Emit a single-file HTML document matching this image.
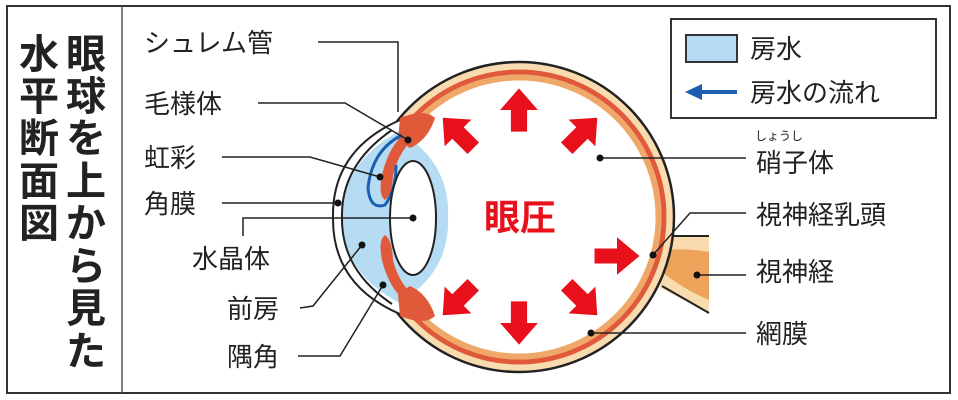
<!DOCTYPE html>
<html><head><meta charset="utf-8"><style>
body{margin:0;background:#fff;}
svg{display:block}
text{font-family:"Liberation Sans","Noto Sans CJK JP",sans-serif;}
</style></head><body>
<svg width="958" height="400" viewBox="0 0 958 400" xmlns="http://www.w3.org/2000/svg">
<rect x="7" y="6" width="943" height="387" fill="#fff" stroke="#333" stroke-width="2"/>
<line x1="122" y1="6" x2="122" y2="393" stroke="#555" stroke-width="1.5"/>
<g font-size="40" font-weight="bold" fill="#222" text-anchor="middle">
<text x="86" y="68">眼</text><text x="86" y="110">球</text><text x="86" y="152">を</text><text x="86" y="195">上</text><text x="86" y="237">か</text><text x="86" y="280">ら</text><text x="86" y="322">見</text><text x="86" y="365">た</text>
<text x="39" y="68">水</text><text x="39" y="110">平</text><text x="39" y="152">断</text><text x="39" y="195">面</text><text x="39" y="237">図</text>
</g>
<!-- optic nerve -->
<path d="M665 236 L709 236 L709 313 L660 288 Z" fill="#f8dcb0" stroke="none"/>
<path d="M660 250 Q690 248 709 252 L709 300 Q685 290 662 272 Z" fill="#eea35a"/>
<path d="M672 236 L709 236 M709 313 L662 286" stroke="#222" stroke-width="2" fill="none"/>
<!-- eyeball -->
<circle cx="519" cy="217" r="155" fill="#f8dcb0" stroke="#222" stroke-width="2.5"/>
<circle cx="519" cy="217" r="145" fill="none" stroke="#e05a3a" stroke-width="5"/>
<circle cx="519" cy="217" r="139.5" fill="none" stroke="#f0a86a" stroke-width="6"/>
<circle cx="519" cy="217" r="136.5" fill="#fff"/>
<!-- cornea / anterior chamber -->
<path d="M400 120 Q330 150 333 217 Q330 285 400 314 L412 314 L412 120 Z" fill="#fff" stroke="none"/>
<path d="M405 128 Q342 160 342 217 Q342 275 405 306 L412 300 L412 135 Z" fill="#b5dcf2"/>
<path d="M412 140 Q450 170 448 217 Q450 265 412 294 Z" fill="#b5dcf2"/>
<path d="M400 120 Q332 150 333 217 Q332 285 400 314" fill="none" stroke="#222" stroke-width="2"/>
<path d="M392 130 Q341 165 342 217 Q341 270 392 304" fill="none" stroke="#222" stroke-width="2"/>
<!-- iris and ciliary -->
<path d="M400 138 Q388 150 382 175 Q378 195 385 200 Q392 195 393 175 Q398 155 410 142 Z" fill="#e05a3a"/>
<path d="M400 296 Q388 284 382 260 Q378 240 385 235 Q392 240 393 260 Q398 280 410 292 Z" fill="#e05a3a"/>
<path d="M400 118 Q425 108 435 118 Q428 140 410 148 L398 140 Z" fill="#e05a3a"/>
<path d="M400 316 Q425 326 435 316 Q428 294 410 286 L398 294 Z" fill="#e05a3a"/>
<path d="M402 135 Q372 150 368 188 Q370 210 385 205 Q396 190 396 165" fill="none" stroke="#1a5fb0" stroke-width="3"/>
<!-- lens -->
<ellipse cx="413" cy="218" rx="23" ry="57" fill="#fff" stroke="#222" stroke-width="2"/>
<!-- red arrows -->
<g fill="#e8101a">
<g transform="translate(519,110) scale(1.35)"><polygon points="0,-16 14,0 6,0 6,16 -6,16 -6,0 -14,0"/></g>
<g transform="translate(519,323) rotate(180) scale(1.35)"><polygon points="0,-16 14,0 6,0 6,16 -6,16 -6,0 -14,0"/></g>
<g transform="translate(458,133) rotate(-45) scale(1.35)"><polygon points="0,-16 14,0 6,0 6,16 -6,16 -6,0 -14,0"/></g>
<g transform="translate(582,133) rotate(45) scale(1.35)"><polygon points="0,-16 14,0 6,0 6,16 -6,16 -6,0 -14,0"/></g>
<g transform="translate(458,300) rotate(-135) scale(1.35)"><polygon points="0,-16 14,0 6,0 6,16 -6,16 -6,0 -14,0"/></g>
<g transform="translate(582,300) rotate(135) scale(1.35)"><polygon points="0,-16 14,0 6,0 6,16 -6,16 -6,0 -14,0"/></g>
<g transform="translate(617,256) rotate(90) scale(1.25)"><polygon points="0,-18 15,0 6,0 6,18 -6,18 -6,0 -15,0"/></g>
</g>
<text x="520" y="230" font-size="36" font-weight="bold" fill="#e8101a" text-anchor="middle">眼圧</text>
<!-- leaders -->
<g stroke="#222" stroke-width="1.5" fill="none">
<path d="M318 42 H398 V112"/>
<path d="M258 103 H345 L408 140"/>
<path d="M222 157 H310 L380 177"/>
<path d="M222 203 H338"/>
<path d="M243 236 V218 H413"/>
<path d="M300 308 L313 306 L362 245"/>
<path d="M298 356 H340 L383 285"/>
<path d="M600 158 H746"/>
<path d="M653 255 L690 213 H746"/>
<path d="M697 275 H746"/>
<path d="M591 333 H746"/>
</g>
<g fill="#111">
<circle cx="408" cy="140" r="3.5"/><circle cx="380" cy="177" r="3.5"/><circle cx="338" cy="203" r="3.5"/><circle cx="413" cy="218" r="3.5"/><circle cx="362" cy="245" r="3.5"/><circle cx="383" cy="285" r="3.5"/>
<circle cx="600" cy="158" r="3.5"/><circle cx="653" cy="255" r="3.5"/><circle cx="697" cy="275" r="3.5"/><circle cx="591" cy="333" r="3.5"/>
</g>
<g font-size="26" fill="#222">
<text x="144" y="52">シュレム管</text>
<text x="144" y="113">毛様体</text>
<text x="144" y="167">虹彩</text>
<text x="144" y="213">角膜</text>
<text x="192" y="268">水晶体</text>
<text x="227" y="318">前房</text>
<text x="227" y="366">隅角</text>
<text x="756" y="172">硝子体</text>
<text x="756" y="224">視神経乳頭</text>
<text x="756" y="281">視神経</text>
<text x="756" y="343">網膜</text>
</g>
<text x="755" y="140" font-size="12" fill="#222">しょうし</text>
<!-- legend -->
<rect x="671" y="19" width="265" height="99" fill="#fff" stroke="#333" stroke-width="2"/>
<rect x="686" y="35" width="51" height="27" fill="#b5dcf2" stroke="#333" stroke-width="2"/>
<text x="750" y="58" font-size="26" fill="#222">房水</text>
<line x1="700" y1="92" x2="737" y2="92" stroke="#1a5fb0" stroke-width="4"/>
<polygon points="685,92 702,84 702,100" fill="#1a5fb0"/>
<text x="750" y="102" font-size="26" fill="#222">房水の流れ</text>
</svg>
</body></html>
